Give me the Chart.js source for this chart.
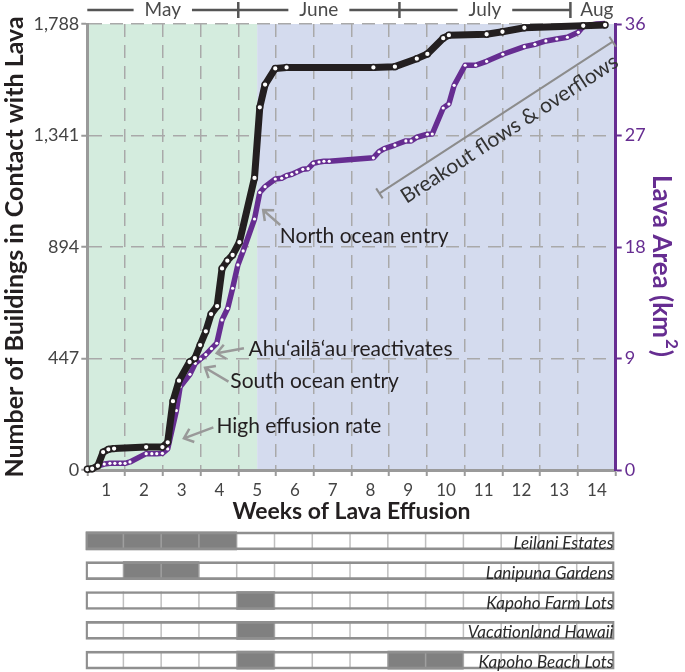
<!DOCTYPE html>
<html>
<head>
<meta charset="utf-8">
<script src="https://cdn.jsdelivr.net/npm/chart.js@4.4.0/dist/chart.umd.min.js"></script>
<style>
  html, body { margin: 0; padding: 0; background: #fff; overflow: hidden; }
  #wrap { position: relative; width: 685px; height: 672px; }
  #lava-chart { position: absolute; left: 0; top: 0; }
  #subdivision-chart { position: absolute; left: 0; top: 525px; }
</style>
</head>
<body>
<div id="wrap">
  <canvas id="lava-chart" width="685" height="525"></canvas>
  <canvas id="subdivision-chart" width="685" height="150"></canvas>
</div>
<script>
// x axis: weeks since the start of the eruption
const weekLabels = ["1", "2", "3", "4", "5", "6", "7", "8", "9", "10", "11", "12", "13", "14"];

// buildings in contact with lava (left axis)
const buildingWeeks = [0, 0.13, 0.28, 0.42, 0.56, 0.71, 1.56, 1.99, 2.13, 2.27, 2.43, 2.71, 2.85, 2.99, 3.14, 3.28, 3.44, 3.57, 3.71, 3.85, 4.03, 4.43, 4.57, 4.71, 4.98, 5.28, 7.58, 8.15, 8.73, 9.01, 9.43, 9.58, 10.58, 11.0, 11.58, 13.14, 13.72];
const buildingCounts = [3, 5, 17, 72, 83, 86, 92, 92, 111, 276, 358, 433, 448, 501, 556, 625, 657, 808, 839, 862, 913, 1171, 1454, 1545, 1610, 1614, 1614, 1617, 1649, 1668, 1731, 1743, 1747, 1757, 1773, 1781, 1784];

// lava area in km2 (right axis)
const areaWeeks = [0.31, 0.45, 0.6, 0.73, 0.87, 1.0, 1.13, 1.56, 1.71, 1.84, 1.99, 2.13, 2.36, 2.46, 2.72, 2.86, 3.0, 3.14, 3.29, 3.43, 3.57, 3.72, 3.85, 3.99, 4.13, 4.43, 4.57, 4.71, 4.98, 5.15, 5.28, 5.42, 5.55, 5.71, 5.85, 5.99, 6.14, 6.27, 6.41, 7.58, 7.73, 7.87, 8.15, 8.44, 8.58, 8.73, 9.01, 9.14, 9.43, 9.58, 9.72, 10.01, 10.29, 10.58, 11.01, 11.58, 11.86, 12.15, 12.44, 12.72, 13.01, 13.14, 13.5, 13.72];
const areaKm2 = [0.35, 0.48, 0.54, 0.54, 0.54, 0.54, 0.65, 1.32, 1.32, 1.32, 1.35, 1.7, 4.8, 6.72, 7.72, 8.61, 8.96, 9.32, 9.8, 10.23, 12.11, 13.05, 14.67, 16.55, 17.68, 20.26, 22.4, 22.87, 23.49, 23.55, 23.76, 23.87, 24.05, 24.27, 24.32, 24.76, 24.86, 24.92, 24.92, 25.2, 25.69, 25.94, 26.23, 26.56, 26.56, 26.86, 27.1, 27.12, 29.22, 29.54, 31.05, 32.67, 32.67, 32.99, 33.56, 34.17, 34.36, 34.63, 34.79, 34.93, 35.33, 35.81, 36.0, 36.05];

// months along the top, edges in weeks
const monthNames = ["May", "June", "July", "Aug"];
const monthEdges = [0, 4.0, 8.27, 12.8, 14.2];

// shaded phases behind the plot, edges in weeks
const phaseEdges = [0, 4.5, 14];
const phaseColors = ["#d4ecde", "#d4dbee"];

// subdivisions table: [row, first week, last week] of inundated weeks
const subdivisions = ["Leilani Estates", "Lanipuna Gardens", "Kapoho Farm Lots", "Vacationland Hawaii", "Kapoho Beach Lots"];
const inundatedCells = [
  ["Leilani Estates", 0, 4],
  ["Lanipuna Gardens", 1, 3],
  ["Kapoho Farm Lots", 4, 5],
  ["Vacationland Hawaii", 4, 5],
  ["Kapoho Beach Lots", 4, 5],
  ["Kapoho Beach Lots", 8, 10],
];

// callouts, in (week, buildings)
const callouts = [
  { text: "North ocean entry", tip: [4.66, 1042], tail: [5.11, 982], label: [5.1, 936] },
  { text: "Ahu‘ailā‘au reactivates", tip: [3.43, 468], tail: [4.15, 488], label: [4.27, 485] },
  { text: "South ocean entry", tip: [3.12, 410], tail: [3.74, 354], label: [3.79, 354] },
  { text: "High effusion rate", tip: [2.56, 127], tail: [3.34, 171], label: [3.42, 176] },
];
const breakout = { text: "Breakout flows & overflows", from: [7.74, 1109], to: [13.92, 1717] };

const INK = "#231f20";
const PURPLE = "#662d91";
const GRID = "#a9a9a9";
const AXIS_GRAY = "#9a9a9a";

Chart.defaults.font.family = "Lato";

function drawArrow(ctx, x1, y1, x2, y2) {
  const ang = Math.atan2(y2 - y1, x2 - x1);
  const len = 11;
  ctx.beginPath();
  ctx.moveTo(x1, y1);
  ctx.lineTo(x2, y2);
  ctx.moveTo(x2 - len * Math.cos(ang - 0.7), y2 - len * Math.sin(ang - 0.7));
  ctx.lineTo(x2, y2);
  ctx.lineTo(x2 - len * Math.cos(ang + 0.7), y2 - len * Math.sin(ang + 0.7));
  ctx.stroke();
}

const lavaDecor = {
  id: "lavaDecor",
  beforeDraw(chart) {
    const { ctx, chartArea, scales: { x } } = chart;
    ctx.save();
    phaseColors.forEach((color, i) => {
      const a = x.getPixelForValue(phaseEdges[i]);
      const b = x.getPixelForValue(phaseEdges[i + 1]);
      ctx.fillStyle = color;
      ctx.fillRect(a, chartArea.top, b - a, chartArea.bottom - chartArea.top);
    });
    ctx.restore();
  },
  afterDraw(chart) {
    const { ctx, chartArea, scales: { x, y, y2 } } = chart;
    ctx.save();

    // month bar
    const barY = 10;
    ctx.strokeStyle = "#555";
    ctx.lineWidth = 2.5;
    ctx.fillStyle = "#4a4a4a";
    ctx.font = "19px Lato";
    ctx.textAlign = "center";
    ctx.textBaseline = "middle";
    monthNames.forEach((name, i) => {
      const a = x.getPixelForValue(monthEdges[i]);
      const b = x.getPixelForValue(monthEdges[i + 1]);
      const c = (a + b) / 2;
      const w = ctx.measureText(name).width;
      ctx.fillText(name, c, barY);
      ctx.beginPath();
      if (c - w / 2 - 11 > a) { ctx.moveTo(a, barY); ctx.lineTo(c - w / 2 - 11, barY); }
      if (c + w / 2 + 11 < b) { ctx.moveTo(c + w / 2 + 11, barY); ctx.lineTo(b, barY); }
      ctx.stroke();
    });
    ctx.beginPath();
    for (let i = 1; i < monthNames.length; i++) {
      const m = x.getPixelForValue(monthEdges[i]);
      ctx.moveTo(m, 2);
      ctx.lineTo(m, 18);
    }
    ctx.stroke();

    // callouts with arrows
    ctx.strokeStyle = "#999";
    ctx.lineWidth = 2.5;
    ctx.fillStyle = INK;
    ctx.font = "21px Lato";
    ctx.textAlign = "left";
    callouts.forEach(c => {
      drawArrow(ctx,
        x.getPixelForValue(c.tail[0]), y.getPixelForValue(c.tail[1]),
        x.getPixelForValue(c.tip[0]), y.getPixelForValue(c.tip[1]));
      ctx.fillText(c.text, x.getPixelForValue(c.label[0]), y.getPixelForValue(c.label[1]));
    });

    // breakout bracket
    const x1 = x.getPixelForValue(breakout.from[0]), y1 = y.getPixelForValue(breakout.from[1]);
    const x2 = x.getPixelForValue(breakout.to[0]), y2p = y.getPixelForValue(breakout.to[1]);
    const ang = Math.atan2(y2p - y1, x2 - x1);
    const nx = -Math.sin(ang), ny = Math.cos(ang);
    ctx.strokeStyle = "#8c8c8c";
    ctx.lineWidth = 2;
    ctx.beginPath();
    ctx.moveTo(x1, y1); ctx.lineTo(x2, y2p);
    [[x1, y1], [x2, y2p]].forEach(([px, py]) => {
      ctx.moveTo(px - nx * 6, py - ny * 6);
      ctx.lineTo(px + nx * 6, py + ny * 6);
    });
    ctx.stroke();
    ctx.save();
    ctx.translate((x1 + x2) / 2 + nx * 17 + Math.cos(ang) * 5, (y1 + y2p) / 2 + ny * 17 + Math.sin(ang) * 5);
    ctx.rotate(ang);
    ctx.textAlign = "center";
    ctx.fillStyle = "#333";
    ctx.fillText(breakout.text, 0, 0);
    ctx.restore();

    // right axis title with superscript
    ctx.save();
    ctx.translate(y2.right - 24, (chartArea.top + chartArea.bottom) / 2 + 19);
    ctx.rotate(Math.PI / 2);
    ctx.fillStyle = PURPLE;
    ctx.textBaseline = "middle";
    ctx.textAlign = "left";
    const main = "Lava Area (km", sup = "2", close = ")";
    ctx.font = "bold 26px Lato";
    const wMain = ctx.measureText(main).width, wClose = ctx.measureText(close).width;
    ctx.font = "bold 17px Lato";
    const wSup = ctx.measureText(sup).width;
    let cx = -(wMain + wSup + wClose + 2) / 2;
    ctx.font = "bold 26px Lato";
    ctx.fillText(main, cx, 0);
    cx += wMain + 1;
    ctx.font = "bold 17px Lato";
    ctx.fillText(sup, cx, -10);
    cx += wSup + 1;
    ctx.font = "bold 26px Lato";
    ctx.fillText(close, cx, 0);
    ctx.restore();

    ctx.restore();
  },
};

new Chart(document.getElementById("lava-chart"), {
  type: "line",
  data: {
    datasets: [
      {
        label: "Buildings",
        data: buildingWeeks.map((w, i) => ({ x: w, y: buildingCounts[i] })),
        yAxisID: "y",
        borderColor: INK,
        borderWidth: 7,
        borderJoinStyle: "round",
        pointRadius: 2.9,
        pointBorderWidth: 1.5,
        pointBackgroundColor: "#fff",
        pointBorderColor: INK,
        tension: 0,
        clip: false,
        order: 0,
      },
      {
        label: "Lava area",
        data: areaWeeks.map((w, i) => ({ x: w, y: areaKm2[i] })),
        yAxisID: "y2",
        borderColor: PURPLE,
        borderWidth: 5.5,
        borderJoinStyle: "round",
        pointRadius: 1.6,
        pointBorderWidth: 0,
        pointBackgroundColor: "#fff",
        pointBorderColor: PURPLE,
        tension: 0,
        clip: false,
        order: 1,
      },
    ],
  },
  options: {
    responsive: false,
    animation: false,
    layout: { padding: { top: 24, left: 0, right: 0, bottom: 0 } },
    scales: {
      x: {
        type: "linear",
        min: 0,
        max: 14,
        afterFit: (s) => { s.height = 55; },
        grid: { color: GRID, lineWidth: 1.5, tickLength: 6, tickColor: AXIS_GRAY, tickWidth: 2 },
        border: { color: AXIS_GRAY, width: 3, dash: [13, 8] },
        ticks: {
          stepSize: 1,
          autoSkip: false,
          maxRotation: 0,
          labelOffset: 19,
          padding: 4,
          color: "#444",
          font: { size: 17 },
          callback: (v) => weekLabels[v] ?? "",
        },
        title: {
          display: true,
          text: "Weeks of Lava Effusion",
          color: INK,
          font: { size: 23, weight: "bold" },
          padding: { top: 0, bottom: 0 },
        },
      },
      y: {
        position: "left",
        min: 0,
        max: 1788,
        afterFit: (s) => { s.width = 87.3; },
        grid: { color: GRID, lineWidth: 1.5, tickLength: 6, tickColor: AXIS_GRAY, tickWidth: 2 },
        border: { color: AXIS_GRAY, width: 3, dash: [13, 8] },
        ticks: {
          stepSize: 447,
          padding: 2,
          color: "#444",
          font: { size: 18 },
          callback: (v) => v.toLocaleString("en-US"),
        },
        title: {
          display: true,
          text: "Number of Buildings in Contact with Lava",
          color: INK,
          font: { size: 25, weight: "bold" },
          padding: { top: 0, bottom: 0 },
        },
      },
      y2: {
        position: "right",
        min: 0,
        max: 36,
        afterFit: (s) => { s.width = 69.3; },
        grid: { drawOnChartArea: false, tickLength: 6, tickColor: PURPLE, tickWidth: 2 },
        border: { color: PURPLE, width: 3 },
        ticks: { stepSize: 9, padding: 3, color: PURPLE, font: { size: 18 } },
      },
    },
    plugins: {
      legend: { display: false },
      tooltip: { enabled: false },
    },
  },
  plugins: [lavaDecor],
});

// table of inundated subdivisions per week
const tableDecor = {
  id: "tableDecor",
  afterDatasetDraw(chart, args) {
    if (args.index !== 1) return;
    const { ctx, scales: { x } } = chart;
    ctx.save();
    ctx.strokeStyle = "rgba(170,170,170,0.75)";
    ctx.lineWidth = 1.5;
    chart.getDatasetMeta(2).data.forEach((el) => {
      const { y, height } = el.getProps(["y", "height"], true);
      ctx.beginPath();
      for (let w = 1; w < weekLabels.length; w++) {
        const px = x.getPixelForValue(w);
        ctx.moveTo(px, y - height / 2);
        ctx.lineTo(px, y + height / 2);
      }
      ctx.stroke();
    });
    ctx.restore();
  },
  afterDatasetsDraw(chart) {
    const { ctx } = chart;
    ctx.save();
    ctx.font = "italic 17px Lato";
    ctx.fillStyle = "#2b2b2b";
    ctx.textAlign = "right";
    ctx.textBaseline = "alphabetic";
    chart.getDatasetMeta(0).data.forEach((el, i) => {
      const { x, y, height } = el.getProps(["x", "y", "height"], true);
      ctx.fillText(subdivisions[i], x - 1, y + height / 2 - 1);
    });
    ctx.restore();
  },
};

const fullRow = subdivisions.map((name) => ({ y: name, x: [0, weekLabels.length] }));

new Chart(document.getElementById("subdivision-chart"), {
  type: "bar",
  data: {
    labels: subdivisions,
    datasets: [
      {
        label: "outline",
        data: fullRow,
        backgroundColor: "rgba(0,0,0,0)",
        borderColor: "#8f8f8f",
        borderWidth: 2,
        borderSkipped: false,
        grouped: false,
        barThickness: 18,
        order: 0,
      },
      {
        label: "inundated",
        data: inundatedCells.map(([name, a, b]) => ({ y: name, x: [a, b] })),
        backgroundColor: "#808080",
        borderWidth: 0,
        grouped: false,
        barThickness: 18,
        order: 1,
      },
      {
        label: "row",
        data: fullRow,
        backgroundColor: "#fff",
        borderWidth: 0,
        grouped: false,
        barThickness: 18,
        order: 2,
      },
    ],
  },
  options: {
    indexAxis: "y",
    responsive: false,
    animation: false,
    layout: { padding: { left: 85.6, right: 70.5, top: 1, bottom: 0 } },
    scales: {
      x: { type: "linear", min: 0, max: 14, display: false },
      y: { type: "category", display: false },
    },
    plugins: {
      legend: { display: false },
      tooltip: { enabled: false },
    },
  },
  plugins: [tableDecor],
});
</script>
</body>
</html>
